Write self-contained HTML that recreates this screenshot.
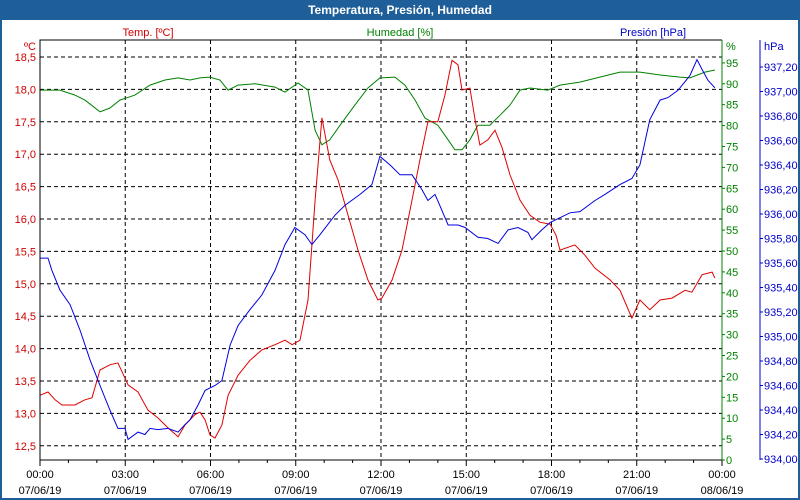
<!DOCTYPE html>
<html><head><meta charset="utf-8">
<style>
body{margin:0;background:#fff;}
svg{display:block;font-family:"Liberation Sans",Verdana,sans-serif;}
</style></head>
<body>
<svg id="chart" width="800" height="500">
<rect x="0" y="0" width="800" height="500" fill="#1f5f99"/>
<rect x="2" y="20" width="796" height="478" fill="#fff"/>
<text x="400" y="14" text-anchor="middle" font-size="12" font-weight="bold" fill="#fff">Temperatura, Presión, Humedad</text>
<text x="148" y="36" text-anchor="middle" font-size="11" fill="#d00000">Temp. [ºC]</text>
<text x="400" y="36" text-anchor="middle" font-size="11" fill="#008000">Humedad [%]</text>
<text x="653" y="36" text-anchor="middle" font-size="11" fill="#0000cc">Presión [hPa]</text>
<text x="36" y="50" text-anchor="end" font-size="11" fill="#d00000">ºC</text>
<text x="726" y="50" font-size="11" fill="#008000">%</text>
<text x="764" y="50" font-size="11" fill="#0000cc">hPa</text>
<g id="grid"></g>
<g id="series"></g>
<g id="axes"></g>
</svg>
<script>
const tempTimes=[0,0.28,0.53,0.77,1.23,1.58,1.83,2.11,2.46,2.74,2.89,3.1,3.45,3.8,4.15,4.5,4.86,5.1,5.45,5.63,5.81,5.98,6.16,6.4,6.62,6.97,7.39,7.81,8.27,8.62,8.87,9.15,9.43,9.68,9.92,10.2,10.49,10.84,11.19,11.54,11.89,12.03,12.39,12.74,13.09,13.37,13.65,14.0,14.25,14.5,14.71,14.85,15.13,15.31,15.48,15.76,16.01,16.26,16.54,16.89,17.24,17.59,17.95,18.16,18.3,18.82,19.18,19.53,20.06,20.41,20.83,21.11,21.46,21.82,22.24,22.7,22.94,23.3,23.65,23.75];
const tempValues=[13.28,13.33,13.21,13.13,13.13,13.21,13.24,13.67,13.75,13.78,13.64,13.44,13.33,13.05,12.93,12.78,12.64,12.82,12.98,13.02,12.9,12.67,12.62,12.82,13.28,13.59,13.82,13.98,14.06,14.13,14.06,14.13,14.75,16.29,17.56,16.91,16.6,16.06,15.52,15.06,14.75,14.78,15.06,15.52,16.29,16.91,17.5,17.5,17.91,18.45,18.38,17.99,18.02,17.53,17.14,17.22,17.37,17.1,16.68,16.29,16.06,15.95,15.92,15.75,15.52,15.6,15.44,15.24,15.06,14.9,14.47,14.75,14.6,14.75,14.78,14.9,14.87,15.14,15.18,15.09];
const humTimes=[0,0.7,1.23,1.58,2.11,2.46,2.81,3.34,3.87,4.4,4.86,5.28,5.63,5.98,6.33,6.62,6.97,7.57,8.27,8.62,9.08,9.43,9.68,9.92,10.2,10.56,11.08,11.54,11.96,12.49,12.84,13.2,13.55,14.0,14.36,14.6,14.85,15.13,15.41,15.83,16.19,16.54,16.89,17.24,17.87,18.3,19.0,19.7,20.41,21.11,21.82,22.52,22.87,23.4,23.75];
const humValues=[88.5,88.5,87.3,86.1,83.3,84.2,86.1,87.3,89.7,90.9,91.4,90.9,91.4,91.6,90.9,88.5,89.7,90,89.2,88,90.2,88.5,78.9,75.4,76.6,80.1,84.9,89,91.4,91.6,89.7,86.1,81.8,80.1,76.6,74.2,74.2,76.6,80.1,80.1,82.5,84.9,88.5,89,88.5,89.7,90.4,91.6,92.8,92.8,92.1,91.6,91.4,92.8,93.3];
const presTimes=[0,0.28,0.42,0.7,1.06,1.41,1.76,2.11,2.46,2.74,2.99,3.1,3.45,3.69,3.87,4.15,4.5,4.86,5.1,5.28,5.56,5.81,6.16,6.4,6.69,6.97,7.39,7.81,8.27,8.62,8.97,9.33,9.57,9.85,10.38,10.73,11.26,11.68,11.96,12.32,12.67,13.09,13.44,13.65,13.9,14.07,14.36,14.71,14.96,15.41,15.76,16.12,16.47,16.82,17.17,17.31,17.66,17.95,18.3,18.65,19.0,19.53,19.88,20.41,20.83,21.11,21.46,21.82,22.1,22.45,22.87,23.12,23.3,23.51,23.75];
const presValues=[935.64,935.64,935.54,935.38,935.26,935.05,934.81,934.6,934.4,934.25,934.25,934.16,934.22,934.2,934.25,934.24,934.25,934.22,934.28,934.32,934.44,934.56,934.6,934.64,934.93,935.09,935.22,935.34,935.54,935.75,935.89,935.83,935.75,935.83,935.99,936.07,936.16,936.24,936.47,936.4,936.32,936.32,936.2,936.11,936.16,936.07,935.91,935.91,935.89,935.81,935.8,935.76,935.87,935.89,935.85,935.79,935.87,935.93,935.97,936.01,936.02,936.11,936.16,936.24,936.29,936.4,936.77,936.93,936.95,937.01,937.13,937.26,937.18,937.09,937.03];
const tempTicks=["12,5","13,0","13,5","14,0","14,5","15,0","15,5","16,0","16,5","17,0","17,5","18,0","18,5"];
const humTicks=[0,5,10,15,20,25,30,35,40,45,50,55,60,65,70,75,80,85,90,95];
const presTicks=["934,00","934,20","934,40","934,60","934,80","935,00","935,20","935,40","935,60","935,80","936,00","936,20","936,40","936,60","936,80","937,00","937,20"];
const timeLabels=["00:00","03:00","06:00","09:00","12:00","15:00","18:00","21:00","00:00"];
const dateLabels=["07/06/19","07/06/19","07/06/19","07/06/19","07/06/19","07/06/19","07/06/19","07/06/19","08/06/19"];

const L=40,R=722,T=40,B=460;
const xS=h=>L+h*(R-L)/24;
const yT=v=>57+(18.5-v)*64.8;
const yH=v=>460-v*4.18;
const yP=v=>67+(937.2-v)*122.5;
const NS="http://www.w3.org/2000/svg";
function mk(tag,attrs,parent,txt){const e=document.createElementNS(NS,tag);for(const k in attrs)e.setAttribute(k,attrs[k]);if(txt!==undefined)e.textContent=txt;parent.appendChild(e);return e;}
const grid=document.getElementById('grid'),series=document.getElementById('series'),axes=document.getElementById('axes');

tempTicks.forEach(t=>{const v=parseFloat(t.replace(',','.'));const y=yT(v);
 const g=mk('line',{x1:L,x2:R,y1:y,y2:y,stroke:'#000','stroke-dasharray':'4,3'},grid);
 
 
 const tx=mk('text',{x:36,y:y+4,'text-anchor':'end','font-size':11,fill:'#d00000'},axes,t);
 
 
});
for(let i=1;i<8;i++){const x=xS(i*3);
 const g=mk('line',{x1:x,x2:x,y1:T,y2:B,stroke:'#000','stroke-dasharray':'4,3'},grid);
 
 
}
for(let h=0;h<=24;h++){const x=xS(h);
 const tk=mk('line',{x1:x,x2:x,y1:B,y2:B+(h%3?3:6),stroke:'#000'},axes);
 
 
}
timeLabels.forEach((t,i)=>{const x=xS(i*3);
 const a=mk('text',{x:x,y:478,'text-anchor':'middle','font-size':11,fill:'#000'},axes,t);
 
 
 const b=mk('text',{x:x,y:494,'text-anchor':'middle','font-size':11,fill:'#000'},axes,dateLabels[i]);
 
 
});
humTicks.forEach(v=>{const y=yH(v);
 const tk=mk('line',{x1:R,x2:R+3,y1:y,y2:y,stroke:'#008000'},axes);
 
 
 const tx=mk('text',{x:726,y:y+4,'font-size':11,fill:'#008000'},axes,String(v));
 
 
});
presTicks.forEach(t=>{const v=parseFloat(t.replace(',','.'));const y=yP(v);
 const tk=mk('line',{x1:760,x2:763,y1:y,y2:y,stroke:'#0000cc'},axes);
 
 
 const tx=mk('text',{x:764,y:y+4,'font-size':11,fill:'#0000cc'},axes,t);
 
 
});
const frame=mk('path',{d:`M${L},${B}V${T}H${R}`,fill:'none',stroke:'#000'},axes);


const xa=mk('line',{x1:L,x2:R,y1:B,y2:B,stroke:'#000'},axes);


const ha=mk('line',{x1:R,x2:R,y1:T,y2:B,stroke:'#008000'},axes);


const pa=mk('line',{x1:760,x2:760,y1:T,y2:B,stroke:'#0000cc'},axes);



function line(ts,vs,yf,col,name){
 const d=ts.map((t,i)=>(i?'L':'M')+xS(t).toFixed(1)+','+yf(vs[i]).toFixed(1)).join('');
 const p=mk('path',{d:d,fill:'none',stroke:col,'stroke-width':1},series);
 
 
}
line(humTimes,humValues,yH,'#008000','humidity-line');
line(tempTimes,tempValues,yT,'#e00000','temperature-line');
line(presTimes,presValues,yP,'#0000e0','pressure-line');
</script>
</body></html>
